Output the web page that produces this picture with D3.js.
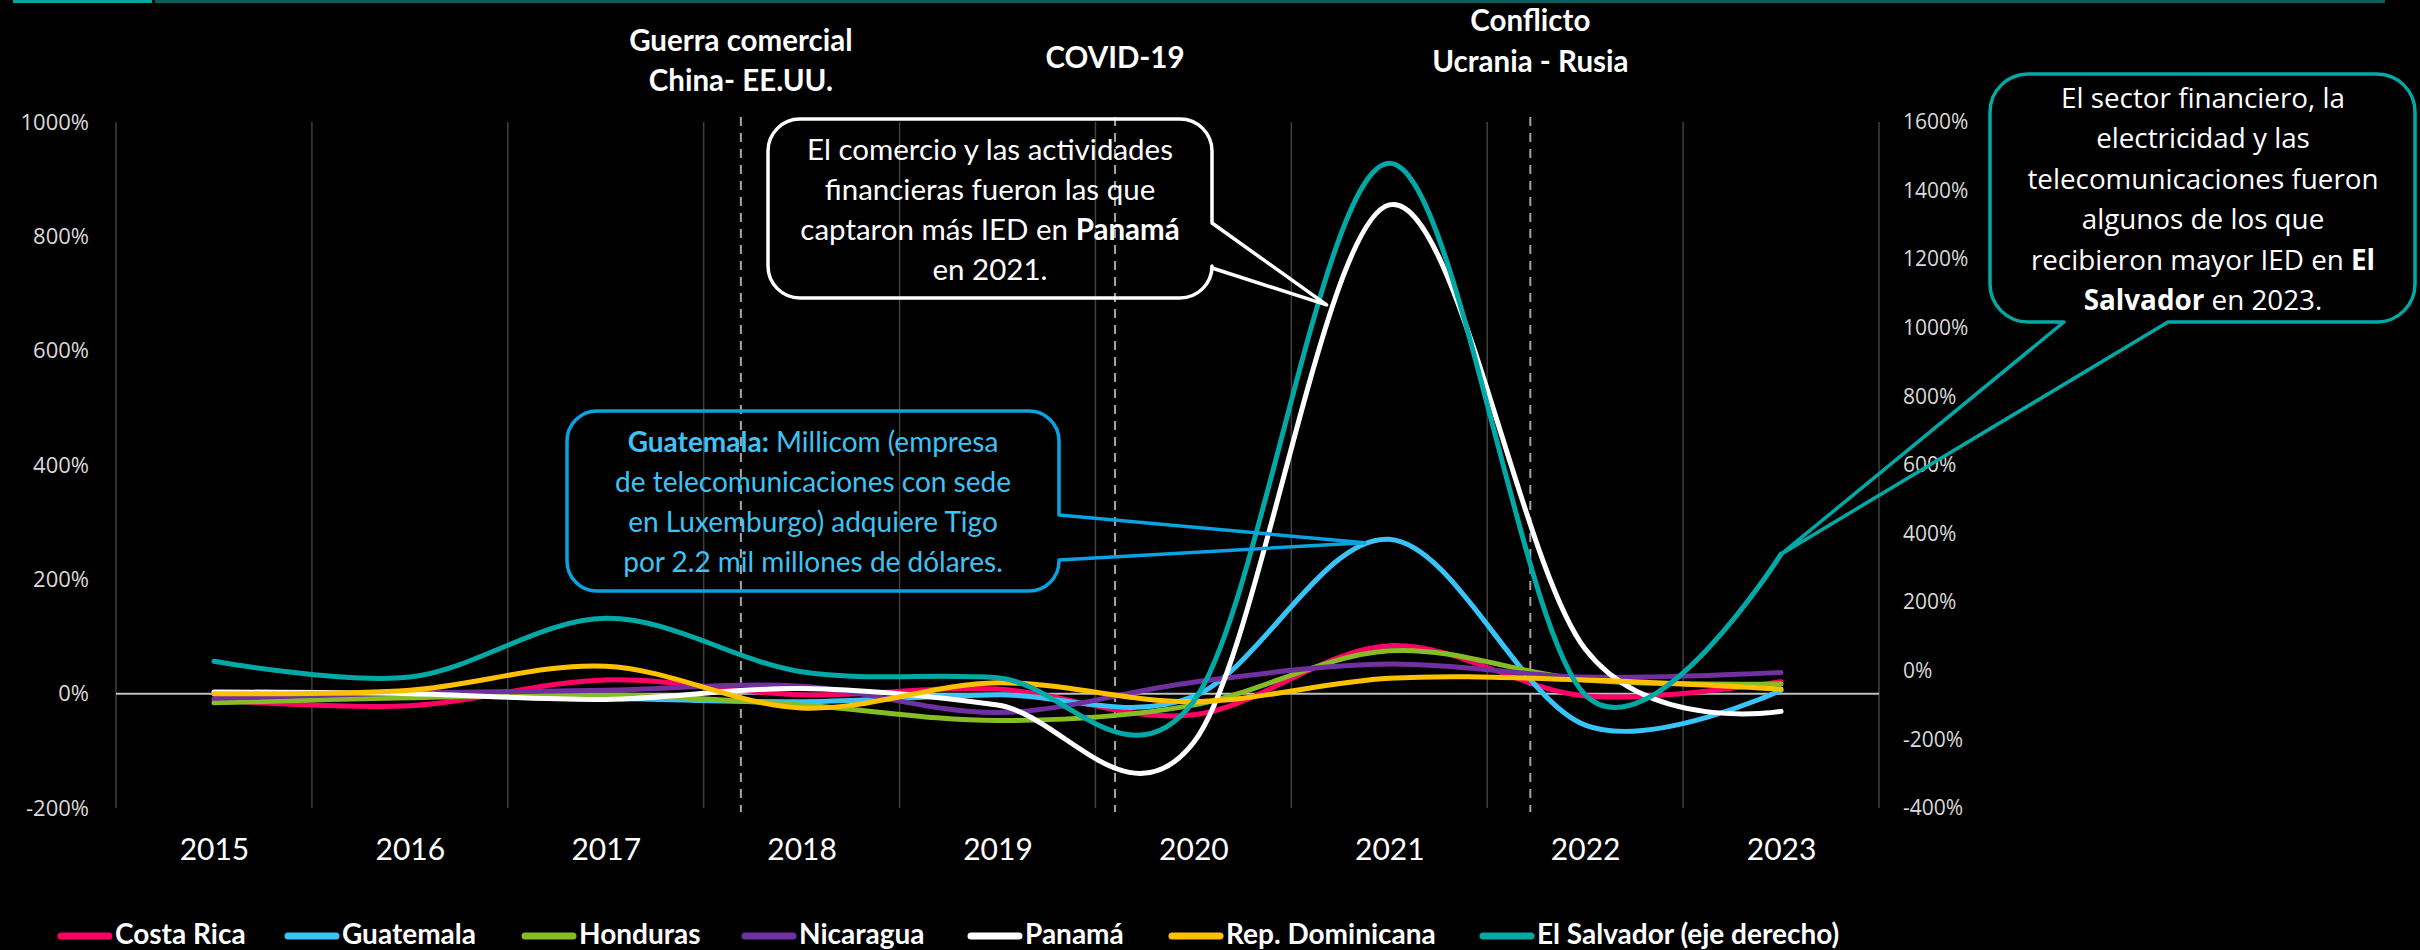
<!DOCTYPE html>
<html><head><meta charset="utf-8">
<script src="https://cdn.jsdelivr.net/npm/d3@7"></script>
<style>
html,body{margin:0;padding:0;background:#000;}
svg{display:block;}
</style></head><body>
<svg id="chart" width="2420" height="950"></svg>
<script>
// ---------- DATA ----------
const years = [2015, 2016, 2017, 2018, 2019, 2020, 2021, 2022, 2023];
const costaRica  = [-11, -21, 24, -2, 8, -37, 84, -4, 21];
const guatemala  = [0, -2, -8, -14, -2, -5, 270, -55, 6];
const honduras   = [-16, -7, -2, -20, -47, -20, 75, 24, 17];
const nicaragua  = [-8, 1, 6, 13, -33, 20, 52, 29, 37];
const panama     = [3, 0, -10, 9, -20, -86, 855, 78, -31];
const repDom     = [0, 6, 48, -25, 19, -14, 27, 24, 8];
const elSalvador = [28, -18, 153, -3, -20, -90, 1480, -70, 340]; // right axis
const seriesNames = ["Costa Rica", "Guatemala", "Honduras", "Nicaragua", "Panamá", "Rep. Dominicana", "El Salvador (eje derecho)"];
const seriesColors = ["#FF0066", "#38C4F8", "#86BC25", "#7030A0", "#FFFFFF", "#FFC000", "#00A9A5"];
const leftTicks  = [-200, 0, 200, 400, 600, 800, 1000];
const rightTicks = [-400, -200, 0, 200, 400, 600, 800, 1000, 1200, 1400, 1600];
const eventYears = [2017.69, 2019.6, 2021.72];
const eventLabels = [["Guerra comercial", "China- EE.UU."], ["COVID-19"], ["Conflicto", "Ucrania - Rusia"]];

// ---------- LAYOUT ----------
const W = 2420, H = 950;
const plot = {left: 116, right: 1879, top: 122, bottom: 808};
const CAL = "Lato, 'Noto Sans', sans-serif";
const SEG = "'Open Sans', 'Noto Sans', sans-serif";

const svg = d3.select("#chart");
svg.append("rect").attr("width", W).attr("height", H).attr("fill", "#000");

// top strip
svg.append("rect").attr("x", 13).attr("y", 0).attr("width", 139).attr("height", 3).attr("fill", "#00A6A1");
svg.append("rect").attr("x", 155).attr("y", 0).attr("width", 2230).attr("height", 3).attr("fill", "#0B5E5B");

const x = d3.scalePoint().domain(years).range([plot.left, plot.right]).padding(0.5);
const step = x.step();
const xc = yr => x(years[0]) + (yr - years[0]) * step;
const yL = d3.scaleLinear().domain([-200, 1000]).range([plot.bottom, plot.top]);
const yR = d3.scaleLinear().domain([-400, 1600]).range([plot.bottom, plot.top]);

// vertical gridlines (category boundaries)
const bounds = years.map(y => x(y) - step / 2).concat([x(years[years.length - 1]) + step / 2]);
svg.append("g").selectAll("line").data(bounds).join("line")
  .attr("x1", d => d).attr("x2", d => d)
  .attr("y1", plot.top).attr("y2", plot.bottom)
  .attr("stroke", "#3f3f3f").attr("stroke-width", 1.5);

// event dashed lines
svg.append("g").selectAll("line").data(eventYears).join("line")
  .attr("x1", d => xc(d)).attr("x2", d => xc(d))
  .attr("y1", 117).attr("y2", 812)
  .attr("stroke", "#a6a6a6").attr("stroke-width", 2).attr("stroke-dasharray", "9,7");

// zero line
svg.append("line").attr("x1", plot.left).attr("x2", plot.right)
  .attr("y1", yL(0)).attr("y2", yL(0))
  .attr("stroke", "#bfbfbf").attr("stroke-width", 2);

// axes
const gL = svg.append("g").attr("transform", "translate(89,0)")
  .call(d3.axisLeft(yL).tickValues(leftTicks).tickFormat(d => d + "%").tickSize(0).tickPadding(0));
gL.select(".domain").remove();
gL.selectAll("text").attr("fill", "#d9d9d9").style("font-family", SEG).style("font-size", "22px");

const gR = svg.append("g").attr("transform", "translate(1903,0)")
  .call(d3.axisRight(yR).tickValues(rightTicks).tickFormat(d => d + "%").tickSize(0).tickPadding(0));
gR.select(".domain").remove();
gR.selectAll("text").attr("fill", "#d9d9d9").style("font-family", SEG).style("font-size", "21px");

const gB = svg.append("g").attr("transform", "translate(0,839)")
  .call(d3.axisBottom(x).tickSize(0).tickPadding(0));
gB.select(".domain").remove();
gB.selectAll("text").attr("fill", "#ffffff").style("font-family", CAL).style("font-size", "30px");

// series lines
const allSeries = [costaRica, guatemala, honduras, nicaragua, panama, repDom, elSalvador];
const curve = d3.curveCardinal.tension(0);
allSeries.forEach((vals, i) => {
  const ys = i === 6 ? yR : yL;
  const line = d3.line().x((d, j) => x(years[j])).y(d => ys(d)).curve(curve);
  svg.append("path").attr("d", line(vals)).attr("fill", "none")
    .attr("stroke", seriesColors[i]).attr("stroke-width", 5)
    .attr("stroke-linecap", "round").attr("stroke-linejoin", "round");
});

// event titles
eventLabels.forEach((lines, i) => {
  const base = i === 0 ? [51, 91] : i === 1 ? [68] : [31, 72];
  lines.forEach((t, k) => {
    svg.append("text").attr("x", xc(eventYears[i])).attr("y", base[k])
      .attr("text-anchor", "middle").attr("fill", "#fff")
      .style("font-family", CAL).style("font-weight", "bold").style("font-size", "29.5px")
      .text(t);
  });
});

// callout builder
function calloutPath(bx, by, w, h, r, side, a, b, tip) {
  const p = d3.path();
  p.moveTo(bx + r, by);
  p.lineTo(bx + w - r, by);
  p.arcTo(bx + w, by, bx + w, by + r, r);
  if (side === "right") {
    p.lineTo(bx + w, a); p.lineTo(tip[0], tip[1]); p.lineTo(bx + w, b);
  }
  p.lineTo(bx + w, by + h - r);
  p.arcTo(bx + w, by + h, bx + w - r, by + h, r);
  if (side === "bottom") {
    p.lineTo(b, by + h); p.lineTo(tip[0], tip[1]); p.lineTo(a, by + h);
  }
  p.lineTo(bx + r, by + h);
  p.arcTo(bx, by + h, bx, by + h - r, r);
  p.lineTo(bx, by + r);
  p.arcTo(bx, by, bx + r, by, r);
  p.closePath();
  return p.toString();
}
function addText(lines, cx, y0, lh, color, font, size) {
  lines.forEach((parts, k) => {
    const t = svg.append("text").attr("x", cx).attr("y", y0 + k * lh)
      .attr("text-anchor", "middle").attr("fill", color)
      .style("font-family", font).style("font-size", size + "px");
    parts.forEach(p => {
      t.append("tspan").style("font-weight", p.b ? "bold" : "normal").text(p.t);
    });
  });
}

// Panamá callout (white)
svg.append("path").attr("d", calloutPath(768, 119, 444, 179, 32, "right", 223, 268, [xc(2020.68), yL(680)]))
  .attr("fill", "none").attr("stroke", "#fff").attr("stroke-width", 3.5).attr("stroke-linejoin", "round");
addText([
  [{t: "El comercio y las actividades"}],
  [{t: "financieras fueron las que"}],
  [{t: "captaron más IED en "}, {t: "Panamá", b: true}],
  [{t: "en 2021."}]
], 990, 160, 40, "#fff", CAL, 29.5);

// Guatemala callout (blue)
svg.append("path").attr("d", calloutPath(567, 411, 492, 180, 30, "right", 515, 560, [xc(2020.875), yL(264)]))
  .attr("fill", "none").attr("stroke", "#0AA2E0").attr("stroke-width", 3.5).attr("stroke-linejoin", "round");
addText([
  [{t: "Guatemala:", b: true}, {t: " Millicom (empresa"}],
  [{t: "de telecomunicaciones con sede"}],
  [{t: "en Luxemburgo) adquiere Tigo"}],
  [{t: "por 2.2 mil millones de dólares."}]
], 813, 452, 40, "#3DC3F5", CAL, 28);

// El Salvador callout (teal)
svg.append("path").attr("d", calloutPath(1990, 74, 425, 248, 38, "bottom", 2064, 2168, [x(2023), yR(elSalvador[8])]))
  .attr("fill", "none").attr("stroke", "#00A9A5").attr("stroke-width", 3.5).attr("stroke-linejoin", "round");
addText([
  [{t: "El sector financiero, la"}],
  [{t: "electricidad y las"}],
  [{t: "telecomunicaciones fueron"}],
  [{t: "algunos de los que"}],
  [{t: "recibieron mayor IED en "}, {t: "El", b: true}],
  [{t: "Salvador", b: true}, {t: " en 2023."}]
], 2203, 108, 40.4, "#fff", SEG, 27.8);

// legend
const legendX = [58, 285, 522, 742, 968, 1169, 1480];
seriesNames.forEach((n, i) => {
  const lx = legendX[i];
  svg.append("line").attr("x1", lx + 3).attr("x2", lx + 51).attr("y1", 936).attr("y2", 936)
    .attr("stroke", seriesColors[i]).attr("stroke-width", 7).attr("stroke-linecap", "round");
  svg.append("text").attr("x", lx + 57).attr("y", 944).attr("fill", "#fff")
    .style("font-family", CAL).style("font-weight", "bold").style("font-size", "28px").text(n);
});
</script>
</body></html>
